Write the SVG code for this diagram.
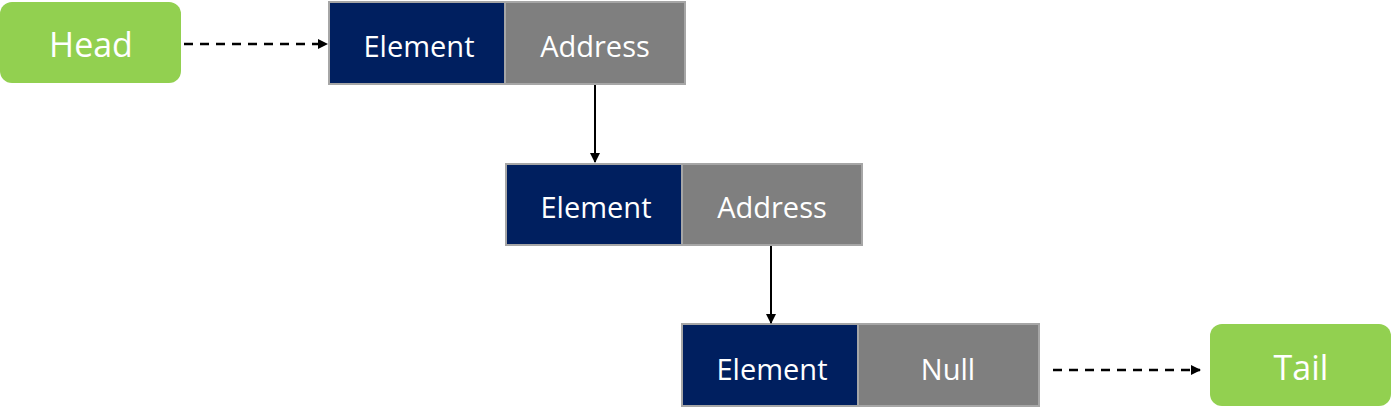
<svg xmlns="http://www.w3.org/2000/svg" width="1391" height="411" viewBox="0 0 1391 411">
<style>
.g{fill:#92d050}
.e{fill:#001f5f;stroke:#a6a6a6;stroke-width:2}
.a{fill:#7f7f7f;stroke:#a6a6a6;stroke-width:2}
text{font-family:"Open Sans","Liberation Sans",sans-serif;fill:#fff;text-anchor:middle;dominant-baseline:central}
.t{font-size:29px}.b{font-size:34px}
.c{stroke:#000;stroke-width:2;fill:none}
.d{stroke-dasharray:9 7;stroke-width:2.5}
</style>
<defs><marker id="m" markerWidth="10" markerHeight="10" refX="9" refY="5" orient="auto" markerUnits="userSpaceOnUse"><path d="M0,0L10,5L0,10z" fill="#000"/></marker></defs>
<g id="head"><rect class="g" x="0" y="2" width="181" height="81" rx="12"/><text class="b" x="91" y="44">Head</text></g>
<g id="node1"><rect class="e" x="329" y="2" width="176" height="82"/><rect class="a" x="505" y="2" width="180" height="82"/><text class="t" x="419" y="45">Element</text><text class="t" x="595" y="45">Address</text></g>
<g id="node2"><rect class="e" x="506" y="164" width="176" height="81"/><rect class="a" x="682" y="164" width="180" height="81"/><text class="t" x="596" y="206">Element</text><text class="t" x="772" y="206">Address</text></g>
<g id="node3"><rect class="e" x="682" y="324" width="176" height="82"/><rect class="a" x="858" y="324" width="181" height="82"/><text class="t" x="772" y="368">Element</text><text class="t" x="948" y="368">Null</text></g>
<g id="tail"><rect class="g" x="1210" y="324" width="181" height="82" rx="12"/><text class="b" x="1301" y="367">Tail</text></g>
<g id="connectors">
<line class="c d" x1="184" y1="44" x2="327" y2="44" marker-end="url(#m)"/>
<line class="c" x1="595" y1="85" x2="595" y2="162" marker-end="url(#m)"/>
<line class="c" x1="771" y1="246" x2="771" y2="323" marker-end="url(#m)"/>
<line class="c d" x1="1053" y1="370" x2="1200" y2="370" marker-end="url(#m)"/>
</g>
</svg>
